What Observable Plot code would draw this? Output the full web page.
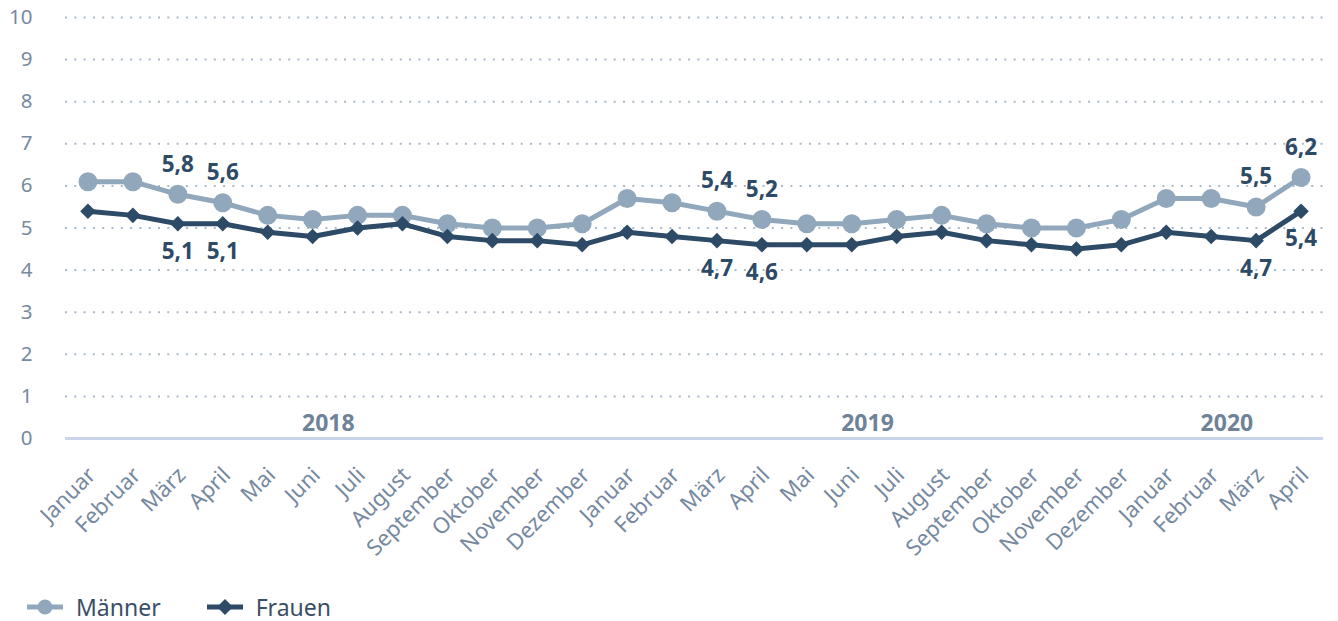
<!DOCTYPE html>
<html><head><meta charset="utf-8">
<script src="https://cdn.jsdelivr.net/npm/d3@7"></script>
<script src="https://cdn.jsdelivr.net/npm/@observablehq/plot@0.6"></script>
<style>
body{margin:0;background:#fff;font-family:"Noto Sans",sans-serif;}
#legend{display:flex;align-items:center;height:26px;margin-top:14px;padding-left:27px;font-size:23px;line-height:26px;color:#3a4f66;}
#legend .item{display:flex;align-items:center;margin-right:46px;}
#legend span{line-height:26px;}
#legend svg{margin-right:13px;}
</style></head><body>
<div id="chart"></div>
<div id="legend"></div>
<script>
const monthNames = ["Januar","Februar","März","April","Mai","Juni","Juli","August","September","Oktober","November","Dezember",
  "Januar","Februar","März","April","Mai","Juni","Juli","August","September","Oktober","November","Dezember",
  "Januar","Februar","März","April"];
const monthYears = [2018,2018,2018,2018,2018,2018,2018,2018,2018,2018,2018,2018,
  2019,2019,2019,2019,2019,2019,2019,2019,2019,2019,2019,2019,
  2020,2020,2020,2020];
const yearLabels = ["2018","2019","2020"];
const maenner = [6.1,6.1,5.8,5.6,5.3,5.2,5.3,5.3,5.1,5.0,5.0,5.1,
  5.7,5.6,5.4,5.2,5.1,5.1,5.2,5.3,5.1,5.0,5.0,5.2,
  5.7,5.7,5.5,6.2];
const frauen = [5.4,5.3,5.1,5.1,4.9,4.8,5.0,5.1,4.8,4.7,4.7,4.6,
  4.9,4.8,4.7,4.6,4.6,4.6,4.8,4.9,4.7,4.6,4.5,4.6,
  4.9,4.8,4.7,5.4];
const labeledMonths = [2,3,14,15,26,27];
const yTicks = [0,1,2,3,4,5,6,7,8,9,10];

const cM = "#91a7bb", cF = "#2d4a66", axisC = "#7689a0";
const fmt = v => v.toFixed(1).replace(".", ",");

const mData = maenner.map((v,i)=>({i,v}));
const fData = frauen.map((v,i)=>({i,v}));
const mLab = mData.filter(d=>labeledMonths.includes(d.i));
const fLab = fData.filter(d=>labeledMonths.includes(d.i));
const yearData = yearLabels.map(y => {
  const idx = monthYears.map((yy,i)=>[yy,i]).filter(p=>String(p[0])===y).map(p=>p[1]);
  return {label:y, x:(d3.min(idx)+d3.max(idx))/2 - 0.15};
});

const chart = Plot.plot({
  width:1338, height:580,
  marginLeft:65, marginRight:15, marginTop:17, marginBottom:142,
  style:{fontFamily:'"Noto Sans",sans-serif', background:"#fff"},
  x:{type:"linear", domain:[-0.5, monthNames.length-0.5]},
  y:{domain:[0,10]},
  marks:[
    Plot.gridY(yTicks.slice(1), {stroke:"#a9bacb", strokeOpacity:1, strokeWidth:2, strokeDasharray:"2,7.3"}),
    Plot.ruleY([0], {stroke:"#c9d3ea", strokeWidth:3}),
    Plot.axisY(yTicks, {tickSize:0, tickPadding:33, fontSize:20.5, fill:axisC, label:null, tickFormat:d=>String(d)}),
    Plot.axisX(d3.range(monthNames.length), {tickSize:0, tickPadding:33, dx:4, tickRotate:-45, fontSize:22, fill:axisC, label:null, tickFormat:i=>monthNames[i]}),
    Plot.text(yearData, {x:"x", y:0, text:"label", dy:-15, fontSize:23, fontWeight:"bold", fill:"#6f8398"}),
    Plot.line(mData, {x:"i", y:"v", stroke:cM, strokeWidth:5}),
    Plot.dot(mData, {x:"i", y:"v", r:9.5, fill:cM, stroke:null}),
    Plot.line(fData, {x:"i", y:"v", stroke:cF, strokeWidth:5}),
    Plot.dot(fData, {x:"i", y:"v", r:7, symbol:"diamond2", fill:cF, stroke:null}),
    Plot.text(mLab, {x:"i", y:"v", text:d=>fmt(d.v), dy:-30, fontSize:22.5, fontWeight:"bold", fill:cF}),
    Plot.text(fLab, {x:"i", y:"v", text:d=>fmt(d.v), dy:28, fontSize:22.5, fontWeight:"bold", fill:cF})
  ]
});
document.getElementById("chart").appendChild(chart);

const legendItems = [
  {name:"Männer", color:cM, shape:"circle"},
  {name:"Frauen", color:cF, shape:"diamond"}
];
const lg = d3.select("#legend");
legendItems.forEach(it=>{
  const item = lg.append("div").attr("class","item");
  const s = item.append("svg").attr("width",36).attr("height",20);
  s.append("line").attr("x1",0).attr("x2",36).attr("y1",10).attr("y2",10).attr("stroke",it.color).attr("stroke-width",5);
  if(it.shape==="circle") s.append("circle").attr("cx",18).attr("cy",10).attr("r",7.5).attr("fill",it.color);
  else s.append("path").attr("d","M18,2L26,10L18,18L10,10Z").attr("fill",it.color);
  item.append("span").text(it.name);
});
</script>
</body></html>
